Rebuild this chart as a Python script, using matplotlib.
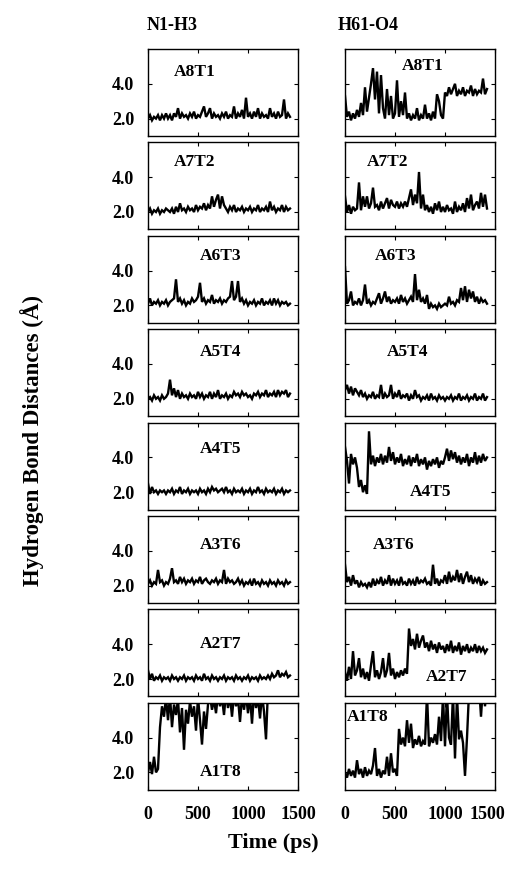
import numpy as np
import matplotlib
matplotlib.use("Agg")
import matplotlib.pyplot as plt
from matplotlib.transforms import ScaledTranslation

# ---------------- data (Angstrom, sampled every 20 ps) ----------------
STEP_PS = 20
pairs = ["A8T1", "A7T2", "A6T3", "A5T4", "A4T5", "A3T6", "A2T7", "A1T8"]
col_titles = ["N1-H3", "H61-O4"]
xticks = [0, 500, 1000, 1500]
yticks = [2.0, 4.0]

n1h3_A8T1 = [2.0,2.2,1.9,2.1,2.0,2.2,1.9,2.2,2.0,2.3, 2.0,2.2,1.9,2.3,2.1,2.6,2.0,2.3,2.1,2.2,
             2.0,2.3,2.1,2.4,2.0,2.2,2.1,2.4,2.7,2.1, 2.3,2.6,2.0,2.3,2.1,2.2,2.0,2.3,2.1,2.4,
             2.0,2.2,2.1,2.7,2.0,2.3,2.1,2.5,2.0,3.2, 2.1,2.3,2.0,2.4,2.1,2.6,2.0,2.3,2.1,2.2,
             2.0,2.6,2.1,2.3,2.0,2.4,2.1,2.2,3.1,2.0, 2.3,2.1]
n1h3_A7T2 = [2.0,2.2,1.9,2.1,2.0,2.2,1.9,2.1,2.0,2.2, 2.1,2.0,2.2,1.9,2.3,2.0,2.5,2.1,2.2,2.0,
             2.3,2.1,2.2,2.0,2.4,2.1,2.3,2.2,2.5,2.1, 2.4,2.2,2.9,2.3,2.7,3.0,2.2,2.9,2.4,2.2,
             2.0,2.3,2.1,2.4,2.0,2.2,2.1,2.3,2.0,2.2, 2.1,2.3,2.0,2.2,2.1,2.4,2.0,2.2,2.1,2.3,
             2.0,2.6,2.1,2.3,2.0,2.2,2.1,2.4,2.0,2.3, 2.1,2.2]
n1h3_A6T3 = [2.1,2.4,2.0,2.2,2.1,2.3,2.0,2.2,2.1,2.3, 2.0,2.2,2.3,2.4,3.5,2.2,2.4,2.1,2.3,2.0,
             2.2,2.1,2.4,2.2,2.3,2.5,3.3,2.2,2.4,2.1, 2.3,2.2,2.6,2.1,2.3,2.2,2.4,2.1,2.3,2.2,
             2.4,2.5,3.4,2.3,2.5,3.4,2.2,2.4,2.1,2.3, 2.0,2.2,2.1,2.3,2.0,2.2,2.1,2.4,2.0,2.2,
             2.1,2.3,2.0,2.4,2.1,2.3,2.0,2.2,2.1,2.2, 2.0,2.1]
n1h3_A5T4 = [2.0,2.1,1.9,2.2,2.0,2.1,1.9,2.2,2.0,2.1, 2.3,3.1,2.2,2.6,2.1,2.5,2.0,2.3,2.1,2.2,
             2.0,2.3,2.1,2.2,2.0,2.4,2.1,2.3,2.0,2.2, 2.1,2.4,2.0,2.3,2.1,2.5,2.0,2.2,2.1,2.3,
             2.0,2.2,2.1,2.4,2.2,2.3,2.1,2.4,2.2,2.3, 2.1,2.2,2.0,2.3,2.2,2.4,2.1,2.3,2.2,2.5,
             2.1,2.3,2.2,2.4,2.1,2.5,2.2,2.4,2.3,2.5, 2.1,2.3]
n1h3_A4T5 = [2.5,1.9,2.3,2.0,2.1,1.9,2.1,2.0,2.1,1.9, 2.1,2.0,2.2,1.9,2.1,2.0,2.3,1.9,2.1,2.0,
             2.2,1.9,2.1,2.0,2.1,1.9,2.2,2.0,2.1,1.9, 2.2,2.0,2.3,2.1,2.2,2.0,2.1,2.2,2.0,2.3,
             2.0,2.1,1.9,2.2,2.0,2.1,2.0,2.2,1.9,2.1, 2.0,2.2,1.9,2.1,2.0,2.3,2.0,2.1,1.9,2.2,
             2.0,2.1,2.0,2.2,1.9,2.1,2.0,2.2,1.9,2.1, 2.0,2.1]
n1h3_A3T6 = [2.1,2.3,2.0,2.2,2.1,2.9,2.2,2.3,2.0,2.2, 2.1,2.4,3.0,2.2,2.3,2.1,2.5,2.2,2.4,2.1,
             2.3,2.2,2.4,2.1,2.3,2.2,2.5,2.1,2.3,2.4, 2.2,2.1,2.3,2.2,2.4,2.1,2.3,2.2,2.9,2.1,
             2.4,2.2,2.3,2.1,2.2,2.4,2.1,2.3,2.0,2.2, 2.1,2.3,2.0,2.4,2.1,2.2,2.0,2.3,2.1,2.2,
             2.0,2.3,2.1,2.2,2.0,2.3,2.1,2.2,2.0,2.3, 2.1,2.2]
n1h3_A2T7 = [2.5,2.0,2.3,1.9,2.1,2.0,2.2,1.9,2.1,2.0, 2.1,1.9,2.2,2.0,2.1,1.9,2.1,2.0,2.2,1.9,
             2.1,2.0,2.1,1.9,2.2,2.0,2.1,1.9,2.3,2.0, 2.1,1.9,2.2,2.0,2.1,1.9,2.1,2.0,2.2,1.9,
             2.1,2.0,2.1,1.9,2.2,2.0,2.1,1.9,2.1,2.0, 2.2,1.9,2.1,2.0,2.1,1.9,2.2,2.0,2.1,2.0,
             2.2,2.0,2.3,2.1,2.2,2.5,2.1,2.3,2.2,2.4, 2.1,2.2]
n1h3_A1T8 = [2.0,2.6,1.9,2.9,2.0,2.2,4.6,5.8,5.2,6.3, 5.0,6.4,4.6,5.9,5.3,6.2,4.3,5.7,3.3,5.6,
             4.8,6.1,5.2,5.8,4.4,6.3,5.0,3.6,5.5,4.5, 5.9,6.4,5.6,6.2,5.4,6.5,5.8,6.3,5.3,6.6,
             5.7,6.4,5.2,6.5,5.8,6.3,4.9,6.4,5.6,6.5, 5.4,6.4,4.8,6.6,5.7,6.3,5.1,6.5,5.5,3.9,
             6.8,7.0,7.0,7.0,7.0,7.0,7.0,7.0,7.0,7.0, 7.0,7.0]

h61o4_A8T1 = [3.3,2.1,2.4,1.9,2.3,2.0,2.5,2.1,2.9,2.2, 3.8,2.4,3.2,4.0,4.9,3.1,4.7,2.3,4.5,2.6,
              2.0,3.7,2.2,3.3,2.0,2.3,4.2,2.1,3.0,2.2, 3.5,2.0,2.3,1.9,2.2,2.0,2.6,1.9,2.2,2.0,
              2.8,2.0,2.3,1.9,2.4,2.0,3.4,3.0,2.2,2.0, 3.5,3.3,3.8,3.4,3.7,4.0,3.3,3.6,3.4,3.8,
              3.3,3.6,3.5,3.9,3.3,3.7,3.4,3.6,3.5,4.3, 3.4,3.7]
h61o4_A7T2 = [2.9,2.0,2.4,1.9,2.3,2.1,2.2,3.7,2.1,2.9, 2.3,2.9,2.2,2.5,3.4,2.3,2.4,2.1,2.6,2.2,
              2.5,2.8,2.2,2.7,2.4,2.3,2.6,2.2,2.5,2.3, 2.6,2.3,2.8,3.3,2.4,3.0,2.5,4.3,2.2,3.0,
              2.1,2.4,2.0,2.3,1.9,2.5,2.1,2.6,2.0,2.3, 2.0,2.4,2.1,2.2,1.9,2.6,2.0,2.3,2.1,2.5,
              2.0,2.8,2.2,3.0,2.1,2.4,2.6,2.2,3.1,2.3, 3.0,2.2]
h61o4_A6T3 = [4.2,2.1,2.3,2.8,2.0,2.2,2.1,2.4,2.0,2.3, 3.2,2.1,2.3,2.0,2.2,2.1,2.4,2.7,2.1,2.4,
              2.8,2.2,2.5,2.1,2.3,2.2,2.4,2.1,2.6,2.2, 2.4,2.1,2.3,2.5,2.2,3.8,2.3,2.9,2.2,2.4,
              2.1,2.6,1.8,2.1,1.9,2.0,1.8,2.1,1.9,2.0, 2.1,2.0,2.5,2.1,2.2,2.0,2.3,2.2,3.0,2.3,
              3.1,2.2,2.9,2.4,2.8,2.2,2.5,2.1,2.4,2.2, 2.3,2.1]
h61o4_A5T4 = [2.5,2.8,2.3,2.7,2.2,2.6,2.4,2.2,2.5,2.1, 2.3,2.0,2.2,2.1,2.4,2.0,2.2,2.1,2.8,2.0,
              2.3,2.1,2.2,2.8,2.0,2.3,2.1,2.5,2.0,2.2, 2.1,2.3,1.9,2.2,2.0,2.5,2.1,2.2,1.9,2.1,
              2.0,2.2,1.9,2.3,2.0,2.1,1.9,2.2,2.0,2.1, 1.9,2.1,2.0,2.2,1.9,2.1,2.0,2.3,1.9,2.1,
              2.0,2.2,1.9,2.1,2.0,2.3,1.9,2.1,2.0,2.3, 1.9,2.1]
h61o4_A4T5 = [4.6,3.8,2.5,4.2,3.6,4.0,3.4,2.3,2.7,2.0, 2.4,1.9,5.5,3.6,4.1,3.5,4.0,3.7,4.2,3.6,
              4.1,3.7,4.6,3.8,4.3,3.6,4.0,3.7,4.2,3.5, 3.9,3.6,4.1,3.5,4.0,3.7,4.2,3.5,3.9,3.6,
              4.0,3.3,3.8,3.5,3.9,3.6,4.0,3.4,3.8,3.6, 4.0,4.5,3.8,4.4,3.9,4.3,3.7,4.1,3.6,4.0,
              3.7,4.2,3.5,4.0,3.7,4.3,3.6,4.1,3.7,4.2, 3.8,4.0]
h61o4_A3T6 = [3.2,2.2,2.5,2.0,2.6,2.1,2.3,1.9,2.2,2.0, 2.1,1.9,2.2,1.9,2.4,2.0,2.3,2.1,2.5,2.0,
              2.3,2.1,2.6,2.0,2.4,2.1,2.3,2.0,2.5,2.1, 2.2,2.0,2.4,2.1,2.3,2.0,2.5,2.1,2.3,2.2,
              2.4,2.1,2.2,2.0,3.2,2.1,2.4,2.0,2.3,2.2, 2.6,2.1,2.8,2.2,2.5,2.3,2.9,2.2,2.7,2.1,
              2.5,2.8,2.2,2.6,2.1,2.4,2.2,2.5,2.0,2.3, 2.1,2.2]
h61o4_A2T7 = [2.4,1.9,2.7,2.0,3.6,2.2,2.5,3.2,2.1,2.6, 2.0,2.4,1.9,2.8,3.6,2.1,2.5,2.0,2.4,3.2,
              2.1,2.5,3.5,2.2,2.6,2.0,2.4,2.1,2.5,2.2, 2.6,2.3,4.9,3.9,4.3,3.7,4.6,3.8,4.2,4.5,
              3.8,4.1,3.6,4.2,3.7,4.0,3.5,4.1,3.7,3.9, 3.5,4.0,3.6,4.2,3.5,3.9,3.6,4.1,3.4,3.9,
              3.6,4.0,3.5,3.8,3.6,4.0,3.5,3.9,3.6,3.8, 3.5,3.7]
h61o4_A1T8 = [2.0,1.7,2.2,1.8,2.1,1.7,2.7,1.9,2.2,1.7, 2.3,1.8,2.1,1.9,2.4,3.4,1.8,2.2,1.7,2.1,
              1.9,2.9,1.8,3.1,2.0,2.2,1.8,4.5,3.6,4.0, 3.5,5.0,3.7,4.8,3.4,3.9,3.6,4.1,3.5,3.8,
              3.6,6.5,3.5,4.0,3.7,4.2,3.6,5.2,3.8,6.4, 3.5,6.5,4.0,3.6,6.5,2.8,6.4,3.9,4.4,3.7,
              1.8,4.0,6.6,7.0,7.0,7.0,7.0,7.0,5.2,7.0, 5.8,7.0]

left_series = [n1h3_A8T1, n1h3_A7T2, n1h3_A6T3, n1h3_A5T4,
               n1h3_A4T5, n1h3_A3T6, n1h3_A2T7, n1h3_A1T8]
right_series = [h61o4_A8T1, h61o4_A7T2, h61o4_A6T3, h61o4_A5T4,
                h61o4_A4T5, h61o4_A3T6, h61o4_A2T7, h61o4_A1T8]

# ---------------- label placement (data coords) ----------------
left_label_pos = [(465, 4.7), (465, 4.86), (730, 4.86), (730, 4.67),
                  (730, 4.46), (730, 4.34), (730, 4.0), (730, 2.05)]
right_label_pos = [(775, 5.0), (425, 4.86), (510, 4.86), (630, 4.7),
                   (860, 2.0), (490, 4.34), (1020, 2.1), (230, 5.2)]

# ---------------- figure ----------------
W, H = 506, 873
fig = plt.figure(figsize=(W / 100, H / 100), dpi=100)
plt.rcParams['font.family'] = ['Liberation Serif', 'DejaVu Serif']
FW = 'bold'

col_x = [148, 345]
ax_w = 150
ax_h = 87
row_top0 = 49
row_step = 93.4

for c, (series_list, labpos) in enumerate([(left_series, left_label_pos),
                                           (right_series, right_label_pos)]):
    for r in range(8):
        top = row_top0 + r * row_step
        ax = fig.add_axes([col_x[c] / W, 1 - (top + ax_h) / H, ax_w / W, ax_h / H])
        y = np.array(series_list[r])
        t = np.arange(len(y)) * STEP_PS
        ax.plot(t, y, color='black', lw=1.7, solid_joinstyle='miter')
        ax.set_xlim(0, 1500)
        ax.set_ylim(1.0, 6.0)
        ax.set_xticks(xticks)
        ax.set_yticks(yticks)
        ax.tick_params(direction='in', top=True, right=True, length=3, width=0.8,
                       labelsize=13)
        ax.tick_params(axis='x', pad=12)
        ax.tick_params(axis='y', pad=10)
        for sp in ax.spines.values():
            sp.set_linewidth(1.0)
        if c == 0:
            ax.set_yticklabels([f"{v:.1f}" for v in yticks], fontweight=FW)
        else:
            ax.set_yticklabels([])
        if r == 7:
            ax.set_xticklabels([str(v) for v in xticks], fontweight=FW)
            if c == 1:
                last = ax.get_xticklabels()[-1]
                last.set_ha('right')
                last.set_transform(last.get_transform() +
                                   ScaledTranslation(10 / 100, 0, fig.dpi_scale_trans))
        else:
            ax.set_xticklabels([])
        lx, ly = labpos[r]
        ax.text(lx, ly, pairs[r], ha='center', va='center', fontsize=12.5,
                fontweight=FW)

fig.text(172 / W, 1 - 25 / H, col_titles[0], ha='center', va='center',
         fontsize=13, fontweight=FW)
fig.text(368 / W, 1 - 25 / H, col_titles[1], ha='center', va='center',
         fontsize=13, fontweight=FW)
fig.text(32 / W, 1 - 440 / H, "Hydrogen Bond Distances (Å)", rotation=90,
         ha='center', va='center', fontsize=16.5, fontweight=FW)
fig.text(273 / W, 1 - 843 / H, "Time (ps)", ha='center', va='center',
         fontsize=16, fontweight=FW)

fig.savefig("out.png", dpi=100)
